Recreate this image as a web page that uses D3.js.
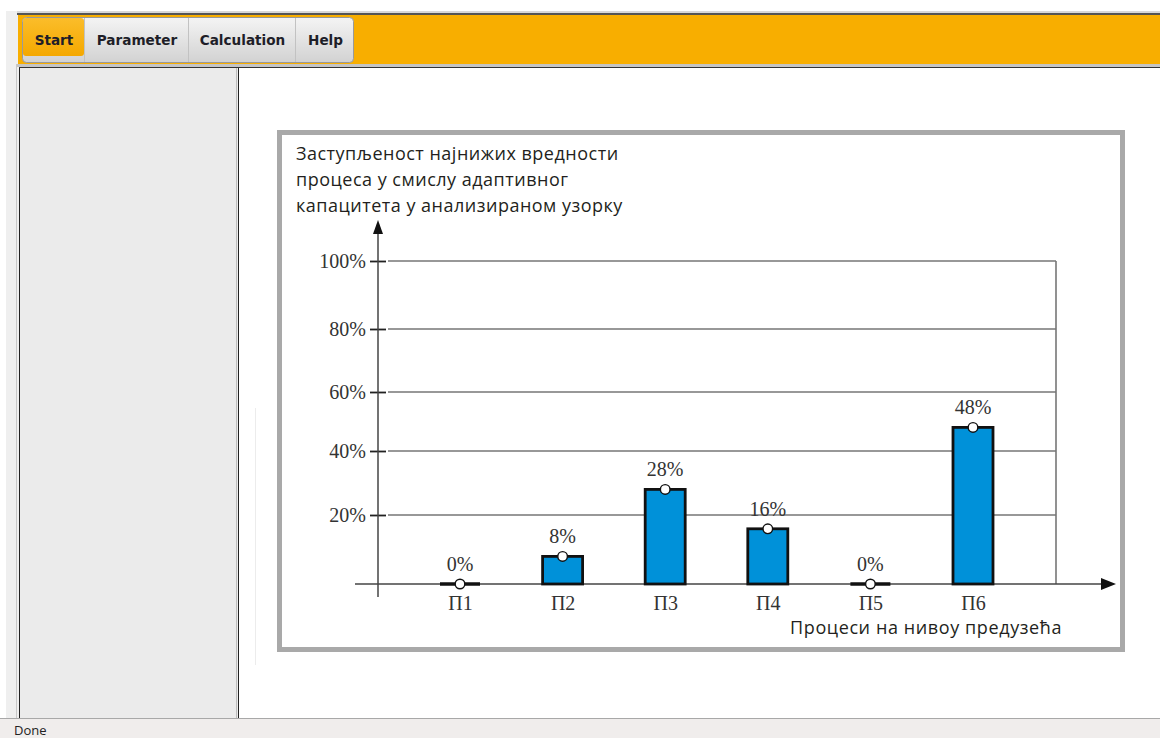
<!DOCTYPE html>
<html>
<head>
<meta charset="utf-8">
<script src="https://cdn.jsdelivr.net/npm/d3@7/dist/d3.min.js"></script>
<style>
  html, body { margin: 0; padding: 0; background: #fff; }
  svg { display: block; }
</style>
</head>
<body>
<svg id="chart" width="1160" height="738"></svg>
<script>
// ---- Data ----
const categories = ["П1", "П2", "П3", "П4", "П5", "П6"];
const values = [0, 8, 28, 16, 0, 48];
const yTickValues = [20, 40, 60, 80, 100];
const yTickLabels = ["20%", "40%", "60%", "80%", "100%"];
const titleLines = ["Заступљеност најнижих вредности", "процеса у смислу адаптивног", "капацитета у анализираном узорку"];
const xAxisTitle = "Процеси на нивоу предузећа";
const menuItems = ["Start", "Parameter", "Calculation", "Help"];
const statusText = "Done";

const svg = d3.select("#chart");
const sans = "'Open Sans', 'Noto Sans', sans-serif";
const serif = "'Liberation Serif', 'DejaVu Serif', serif";

const defs = svg.append("defs");
const gBtn = defs.append("linearGradient").attr("id", "gBtn").attr("x1", 0).attr("y1", 0).attr("x2", 0).attr("y2", 1);
gBtn.append("stop").attr("offset", "0").attr("stop-color", "#f4f4f4");
gBtn.append("stop").attr("offset", "1").attr("stop-color", "#d2d2d2");
const gAct = defs.append("linearGradient").attr("id", "gAct").attr("x1", 0).attr("y1", 0).attr("x2", 0).attr("y2", 1);
gAct.append("stop").attr("offset", "0").attr("stop-color", "#fbbd2a");
gAct.append("stop").attr("offset", "1").attr("stop-color", "#f4a800");

// ---- Window chrome ----
svg.append("rect").attr("x", 0).attr("y", 0).attr("width", 1160).attr("height", 738).attr("fill", "#fff");
svg.append("rect").attr("x", 6).attr("y", 11).attr("width", 1154).attr("height", 708).attr("fill", "#efefef");
svg.append("line").attr("x1", 16.5).attr("x2", 16.5).attr("y1", 64).attr("y2", 718).attr("stroke", "#c8c8c8");
// toolbar
svg.append("rect").attr("x", 17).attr("y", 11).attr("width", 1143).attr("height", 3).attr("fill", "#d8d8d8");
svg.append("rect").attr("x", 17).attr("y", 13).attr("width", 1143).attr("height", 2).attr("fill", "#555");
svg.append("rect").attr("x", 18).attr("y", 15).attr("width", 1142).attr("height", 49).attr("fill", "#f8ae00");
svg.append("rect").attr("x", 17).attr("y", 64).attr("width", 1143).attr("height", 3).attr("fill", "#c4c4c4");

// button group
const btnEdges = [22, 84, 188, 295, 354];
svg.append("rect").attr("x", 22.5).attr("y", 17.5).attr("width", 331).attr("height", 45)
  .attr("rx", 4).attr("fill", "url(#gBtn)").attr("stroke", "#9a9a9a");
svg.append("rect").attr("x", 23).attr("y", 18).attr("width", 61).attr("height", 38)
  .attr("rx", 3).attr("fill", "url(#gAct)");
svg.selectAll("line.sep").data(btnEdges.slice(1, 4)).enter().append("line")
  .attr("class", "sep").attr("x1", d => d + 0.5).attr("x2", d => d + 0.5)
  .attr("y1", 18).attr("y2", 62).attr("stroke", "#c2c2c2");
svg.selectAll("text.menu").data(menuItems).enter().append("text")
  .attr("class", "menu")
  .attr("x", (d, i) => (btnEdges[i] + btnEdges[i + 1]) / 2 + 1)
  .attr("y", 45).attr("text-anchor", "middle")
  .attr("font-family", "'DejaVu Sans', sans-serif").attr("font-weight", "bold")
  .attr("font-size", "13.6px").attr("fill", "#1e1e28").text(d => d);

// left panel
svg.append("rect").attr("x", 19).attr("y", 67).attr("width", 219).attr("height", 652).attr("fill", "#ebebeb");
svg.append("line").attr("x1", 19.5).attr("x2", 19.5).attr("y1", 67).attr("y2", 718).attr("stroke", "#222");
svg.append("line").attr("x1", 236.5).attr("x2", 236.5).attr("y1", 67).attr("y2", 718).attr("stroke", "#bcbcbc");
svg.append("line").attr("x1", 238.5).attr("x2", 238.5).attr("y1", 67).attr("y2", 718).attr("stroke", "#222");
// main area
svg.append("rect").attr("x", 239).attr("y", 68).attr("width", 921).attr("height", 650).attr("fill", "#fff");
svg.append("line").attr("x1", 19).attr("x2", 1160).attr("y1", 67.5).attr("y2", 67.5).attr("stroke", "#333");
svg.append("line").attr("x1", 255.5).attr("x2", 255.5).attr("y1", 408).attr("y2", 665).attr("stroke", "#ececec");
// status bar
svg.append("rect").attr("x", 0).attr("y", 718).attr("width", 1160).attr("height", 20).attr("fill", "#f0edec");
svg.append("line").attr("x1", 0).attr("x2", 1160).attr("y1", 718.5).attr("y2", 718.5).attr("stroke", "#a8a8a8");
svg.append("text").attr("x", 14).attr("y", 735).attr("font-family", sans).attr("font-size", "13px")
  .attr("fill", "#222").text(statusText);

// ---- Chart frame ----
svg.append("rect").attr("x", 279.5).attr("y", 132.5).attr("width", 843).attr("height", 517)
  .attr("fill", "#fff").attr("stroke", "#a9a9a9").attr("stroke-width", 5);

// title
svg.append("g").selectAll("text").data(titleLines).enter().append("text")
  .attr("x", 296).attr("y", (d, i) => 160 + i * 26)
  .attr("font-family", sans).attr("font-size", "18px").attr("letter-spacing", "0.5px")
  .attr("fill", "#231f20").text(d => d);

// ---- Scales ----
const y = d3.scaleLinear().domain([0, 20, 40, 60, 80, 100]).range([584, 515, 451, 392, 329, 261]);
const x = d3.scalePoint().domain(categories).range([460, 973]);
const barW = 40;
const axisX = 378;
const gridRight = 1056;

// gridlines
svg.append("g").selectAll("line").data(yTickValues).enter().append("line")
  .attr("x1", axisX + 10).attr("x2", gridRight)
  .attr("y1", d => y(d)).attr("y2", d => y(d))
  .attr("stroke", "#767676").attr("stroke-width", 1.6);
svg.append("line").attr("x1", gridRight).attr("x2", gridRight).attr("y1", y(100)).attr("y2", y(0))
  .attr("stroke", "#767676").attr("stroke-width", 1.6);

// y axis
const yAxis = d3.axisLeft(y).tickValues(yTickValues)
  .tickFormat((d, i) => yTickLabels[i]).tickSize(8).tickPadding(4);
const gy = svg.append("g").attr("transform", `translate(${axisX},0)`).call(yAxis);
gy.select(".domain").remove();
gy.selectAll(".tick line").attr("x1", -8).attr("x2", 8).attr("stroke", "#222").attr("stroke-width", 1.8);
gy.selectAll(".tick text").attr("font-family", serif).attr("font-size", "20px").attr("fill", "#333");

svg.append("line").attr("x1", axisX).attr("x2", axisX).attr("y1", 597).attr("y2", 230)
  .attr("stroke", "#444").attr("stroke-width", 1.5);
svg.append("path").attr("d", `M${axisX},220 L${axisX + 5},234 L${axisX - 5},234 Z`).attr("fill", "#111");

// x axis
svg.append("line").attr("x1", 355).attr("x2", 1104).attr("y1", y(0)).attr("y2", y(0))
  .attr("stroke", "#444").attr("stroke-width", 1.5);
svg.append("path").attr("d", `M1116,${y(0)} L1101,${y(0) - 6} L1101,${y(0) + 6} Z`).attr("fill", "#111");

const xAxis = d3.axisBottom(x).tickSize(0).tickPadding(0);
const gx = svg.append("g").attr("transform", `translate(0,${y(0)})`).call(xAxis);
gx.select(".domain").remove();
gx.selectAll(".tick text").attr("dy", 0).attr("y", 26)
  .attr("font-family", serif).attr("font-size", "20px").attr("fill", "#333");

svg.append("text").attr("x", 1062).attr("y", 634).attr("text-anchor", "end")
  .attr("font-family", sans).attr("font-size", "18px").attr("letter-spacing", "0.6px")
  .attr("fill", "#231f20").text(xAxisTitle);

// ---- Bars ----
const data = categories.map((c, i) => ({ c, v: values[i] }));
const bars = svg.append("g");
bars.selectAll("rect").data(data.filter(d => d.v > 0)).enter().append("rect")
  .attr("x", d => x(d.c) - barW / 2).attr("width", barW)
  .attr("y", d => y(d.v)).attr("height", d => y(0) - y(d.v))
  .attr("fill", "#0091d9").attr("stroke", "#111").attr("stroke-width", 2.8);
bars.selectAll("line").data(data.filter(d => d.v === 0)).enter().append("line")
  .attr("x1", d => x(d.c) - barW / 2).attr("x2", d => x(d.c) + barW / 2)
  .attr("y1", d => y(d.v)).attr("y2", d => y(d.v))
  .attr("stroke", "#111").attr("stroke-width", 3.5);
bars.selectAll("circle").data(data).enter().append("circle")
  .attr("cx", d => x(d.c)).attr("cy", d => y(d.v)).attr("r", 4.8)
  .attr("fill", "#fff").attr("stroke", "#111").attr("stroke-width", 1.4);
bars.selectAll("text").data(data).enter().append("text")
  .attr("x", d => x(d.c)).attr("y", d => y(d.v) - 13).attr("text-anchor", "middle")
  .attr("font-family", serif).attr("font-size", "20px").attr("fill", "#333")
  .text(d => d.v + "%");
</script>
</body>
</html>
